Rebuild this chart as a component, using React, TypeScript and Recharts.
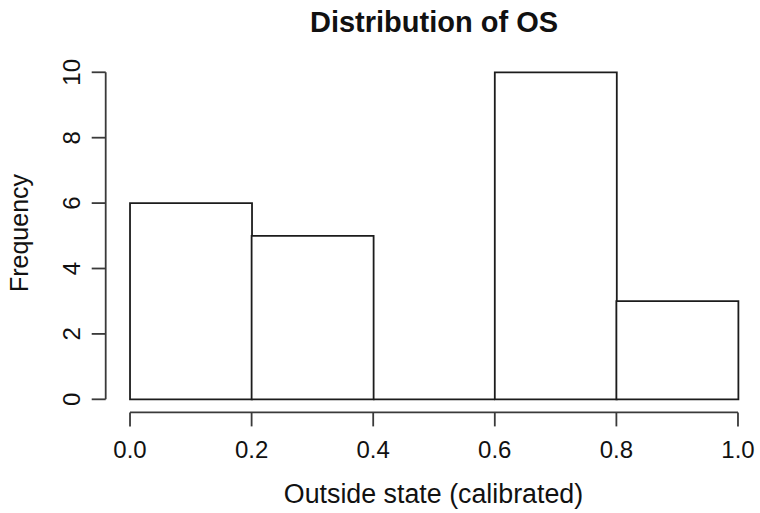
import { BarChart, Bar, XAxis, YAxis, ReferenceLine } from "recharts";

// histogram bins of the calibrated outside-state scores
const binStarts = [0.0, 0.2, 0.4, 0.6, 0.8];
const binWidth = 0.2;
const counts = [6, 5, 0, 10, 3];

const xTicks = [0, 0.2, 0.4, 0.6, 0.8, 1.0];
const yTicks = [0, 2, 4, 6, 8, 10];

const title = "Distribution of OS";
const xLabel = "Outside state (calibrated)";
const yLabel = "Frequency";

const bins = binStarts.map((start, i) => ({
  mid: start + binWidth / 2,
  start,
  end: start + binWidth,
  count: counts[i],
}));

const FONT = '"Liberation Sans", Arial, Helvetica, sans-serif';
const INK = "#111";
const AXIS = "#3a3a3a";
const LW = 1.8;

function XTick({ x, y, payload }: { x: number; y: number; payload: { value: number } }) {
  return (
    <g>
      <line x1={x} x2={x} y1={y} y2={y + 14} stroke={AXIS} strokeWidth={LW} />
      <text x={x} y={y + 45.6} textAnchor="middle" fontSize={24} fill={INK} fontFamily={FONT}>
        {payload.value.toFixed(1)}
      </text>
    </g>
  );
}

function YTick({ x, y, payload }: { x: number; y: number; payload: { value: number } }) {
  const tx = x - 25.7;
  return (
    <g>
      <line x1={x - 14} x2={x} y1={y} y2={y} stroke={AXIS} strokeWidth={LW} />
      <text
        x={tx}
        y={y}
        transform={`rotate(-90 ${tx} ${y})`}
        textAnchor="middle"
        fontSize={24}
        fill={INK}
        fontFamily={FONT}
      >
        {payload.value}
      </text>
    </g>
  );
}

export default function App() {
  return (
    <div style={{ position: "absolute", left: 0, top: 0, width: 760, height: 513, background: "#fff" }}>
      <BarChart
        width={760}
        height={513}
        data={bins}
        barCategoryGap={0}
        barGap={0}
        margin={{ top: 59.2, right: -2.3, bottom: 40.6, left: 0 }}
      >
        <XAxis
          dataKey="mid"
          type="number"
          domain={[-0.04, 1.04]}
          ticks={xTicks}
          interval={0}
          allowDataOverflow
          axisLine={false}
          tickLine={false}
          tickSize={0}
          tickMargin={0}
          height={60}
          tick={XTick}
        />
        <YAxis
          type="number"
          domain={[-0.4, 10.4]}
          ticks={yTicks}
          interval={0}
          allowDataOverflow
          axisLine={false}
          tickLine={false}
          tickSize={0}
          tickMargin={0}
          width={105.7}
          tick={YTick}
        />
        {/* detached axis lines spanning only the tick range */}
        <ReferenceLine
          segment={[{ x: xTicks[0], y: -0.4 }, { x: xTicks[xTicks.length - 1], y: -0.4 }]}
          stroke={AXIS}
          strokeWidth={LW}
          ifOverflow="visible"
        />
        <ReferenceLine
          segment={[{ x: -0.04, y: yTicks[0] }, { x: -0.04, y: yTicks[yTicks.length - 1] }]}
          stroke={AXIS}
          strokeWidth={LW}
          ifOverflow="visible"
        />
        <Bar dataKey="count" fill="#fff" stroke="#1c1c1c" strokeWidth={LW} isAnimationActive={false} />
        {/* empty bins collapse to a flat line on the baseline */}
        {bins
          .filter((b) => b.count === 0)
          .map((b) => (
            <ReferenceLine
              key={b.start}
              segment={[{ x: b.start, y: 0 }, { x: b.end, y: 0 }]}
              stroke="#1c1c1c"
              strokeWidth={LW}
            />
          ))}
      </BarChart>
      <svg
        width={760}
        height={513}
        style={{ position: "absolute", left: 0, top: 0, pointerEvents: "none" }}
      >
        <text x={434} y={31.7} textAnchor="middle" fontSize={29} fontWeight="bold" fill={INK} fontFamily={FONT}>
          {title}
        </text>
        <text x={433.5} y={503} textAnchor="middle" fontSize={26.8} fill={INK} fontFamily={FONT}>
          {xLabel}
        </text>
        <text
          x={28.3}
          y={233}
          transform="rotate(-90 28.3 233)"
          textAnchor="middle"
          fontSize={25}
          fill={INK}
          fontFamily={FONT}
        >
          {yLabel}
        </text>
      </svg>
    </div>
  );
}
